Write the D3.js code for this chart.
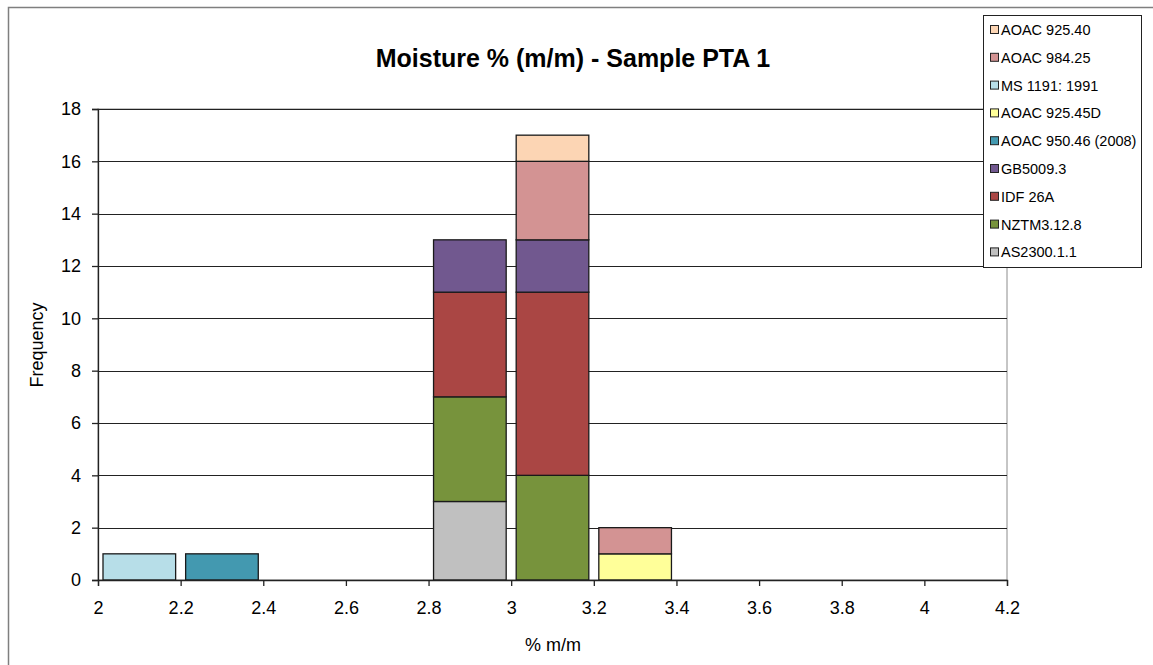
<!DOCTYPE html>
<html>
<head>
<meta charset="utf-8">
<script src="https://cdn.jsdelivr.net/npm/d3@7"></script>
<style>
  body { margin: 0; background: #fff; }
  text { font-family: Arial, "Liberation Sans", sans-serif; fill: #000; }
</style>
</head>
<body>
<div id="chart"></div>
<script>
// bins (centre of each 0.2 wide class)
var bins = [2.1, 2.3, 2.5, 2.7, 2.9, 3.1, 3.3, 3.5, 3.7, 3.9, 4.1]

// methods, bottom of stack first
var methods = ['AS2300.1.1', 'NZTM3.12.8', 'IDF 26A', 'GB5009.3', 'AOAC 950.46 (2008)',
               'AOAC 925.45D', 'MS 1191: 1991', 'AOAC 984.25', 'AOAC 925.40']
var colors = ['#c0c0c0', '#77933c', '#aa4644', '#71588f', '#4399b0',
              '#ffff99', '#b7dee8', '#d39393', '#fcd5b4']

// counts per bin for each method
var as2300   = [0, 0, 0, 0, 3, 0, 0, 0, 0, 0, 0]
var nztm     = [0, 0, 0, 0, 4, 4, 0, 0, 0, 0, 0]
var idf26a   = [0, 0, 0, 0, 4, 7, 0, 0, 0, 0, 0]
var gb5009   = [0, 0, 0, 0, 2, 2, 0, 0, 0, 0, 0]
var aoac95046 = [0, 1, 0, 0, 0, 0, 0, 0, 0, 0, 0]
var aoac92545 = [0, 0, 0, 0, 0, 0, 1, 0, 0, 0, 0]
var ms1191   = [1, 0, 0, 0, 0, 0, 0, 0, 0, 0, 0]
var aoac98425 = [0, 0, 0, 0, 0, 3, 1, 0, 0, 0, 0]
var aoac92540 = [0, 0, 0, 0, 0, 1, 0, 0, 0, 0, 0]

var series = [as2300, nztm, idf26a, gb5009, aoac95046, aoac92545, ms1191, aoac98425, aoac92540]

var xTicks = [2, 2.2, 2.4, 2.6, 2.8, 3, 3.2, 3.4, 3.6, 3.8, 4, 4.2]
var yTicks = [0, 2, 4, 6, 8, 10, 12, 14, 16, 18]

var W = 1153, H = 665

var svg = d3.select("#chart").append("svg")
    .attr("width", W)
    .attr("height", H)

// outer chart border
svg.append("rect")
    .attr("x", 8.5).attr("y", 7.5)
    .attr("width", W).attr("height", H)
    .attr("fill", "none")
    .attr("stroke", "#7f7f7f")
    .attr("stroke-width", 1.5)

var x = d3.scaleLinear().domain([2, 4.2]).range([98, 1007])
var y = d3.scaleLinear().domain([0, 18]).range([580, 109])

// table for stacking
var table = bins.map(function (b, i) {
    var row = { bin: b }
    methods.forEach(function (m, j) { row[m] = series[j][i] })
    return row
})
var stacked = d3.stack().keys(methods)(table)

// plot area border
svg.append("rect")
    .attr("x", x(2)).attr("y", y(18))
    .attr("width", x(4.2) - x(2)).attr("height", y(0) - y(18))
    .attr("fill", "none")
    .attr("stroke", "#8c8c8c")
    .attr("stroke-width", 1)

// gridlines
svg.append("g")
    .selectAll("line")
    .data(yTicks.slice(1))
    .enter()
    .append("line")
        .attr("x1", x(2)).attr("x2", x(4.2))
        .attr("y1", d => Math.round(y(d)) + 0.5)
        .attr("y2", d => Math.round(y(d)) + 0.5)
        .attr("stroke", "#222")
        .attr("stroke-width", 1.2)

// bars
var half = 0.2 / 2
svg.append("g")
    .selectAll("g")
    .data(stacked)
    .enter()
    .append("g")
        .attr("fill", (d, i) => colors[i])
    .selectAll("rect")
    .data(d => d.filter(s => s[1] - s[0] > 0))
    .enter()
    .append("rect")
        .attr("x", d => x(d.data.bin - half) + 5)
        .attr("width", d => x(d.data.bin + half) - x(d.data.bin - half) - 10)
        .attr("y", d => y(d[1]))
        .attr("height", d => y(d[0]) - y(d[1]))
        .attr("stroke", "#1a1a1a")
        .attr("stroke-width", 1.3)

// y axis
var yAxis = d3.axisLeft(y).tickValues(yTicks).tickSize(6).tickPadding(11).tickFormat(d3.format("d"))
var gy = svg.append("g")
    .attr("transform", "translate(" + x(2) + ",0)")
    .call(yAxis)
gy.select(".domain").attr("stroke", "#222").attr("stroke-width", 1.3)
gy.selectAll(".tick line").attr("stroke", "#222").attr("stroke-width", 1.3)
gy.selectAll(".tick text")
    .style("font-size", "18px")
    .style("font-family", "Arial, 'Liberation Sans', sans-serif")

// x axis
var xAxis = d3.axisBottom(x).tickValues(xTicks).tickSize(6).tickPadding(15)
    .tickFormat(d => d3.format("")(+d.toFixed(1)))
var gx = svg.append("g")
    .attr("transform", "translate(0," + y(0) + ")")
    .call(xAxis)
gx.select(".domain").attr("stroke", "#222").attr("stroke-width", 1.3)
gx.selectAll(".tick line").attr("stroke", "#222").attr("stroke-width", 1.3)
gx.selectAll(".tick text")
    .style("font-size", "18px")
    .style("font-family", "Arial, 'Liberation Sans', sans-serif")

// titles
svg.append("text")
    .attr("x", 573).attr("y", 67)
    .attr("text-anchor", "middle")
    .style("font-size", "25px")
    .style("font-weight", "bold")
    .text("Moisture % (m/m) - Sample PTA 1")

svg.append("text")
    .attr("x", 553).attr("y", 651)
    .attr("text-anchor", "middle")
    .style("font-size", "18px")
    .text("% m/m")

svg.append("text")
    .attr("transform", "translate(43,345) rotate(-90)")
    .attr("text-anchor", "middle")
    .style("font-size", "18px")
    .text("Frequency")

// legend
var lg = svg.append("g")
lg.append("rect")
    .attr("x", 983.5).attr("y", 15.5)
    .attr("width", 158).attr("height", 252)
    .attr("fill", "#fff")
    .attr("stroke", "#222")
    .attr("stroke-width", 1)

var legendKeys = methods.slice().reverse()
var legendColors = colors.slice().reverse()
lg.selectAll("rect.key")
    .data(legendKeys)
    .enter()
    .append("rect")
        .attr("class", "key")
        .attr("x", 990.5)
        .attr("y", (d, i) => 25.5 + i * 27.8)
        .attr("width", 8).attr("height", 8)
        .attr("fill", (d, i) => legendColors[i])
        .attr("stroke", "#222")
        .attr("stroke-width", 1)
lg.selectAll("text.key")
    .data(legendKeys)
    .enter()
    .append("text")
        .attr("class", "key")
        .attr("x", 1001)
        .attr("y", (d, i) => 35 + i * 27.8)
        .style("font-size", "14.5px")
        .text(d => d)
</script>
</body>
</html>
